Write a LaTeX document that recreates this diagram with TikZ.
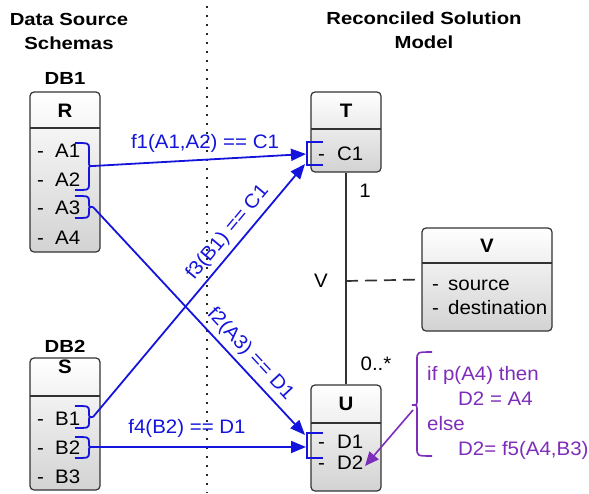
\documentclass[tikz,border=0pt]{standalone}
\usepackage{fontspec}
\setmainfont{Liberation Sans}[FakeStretch=1.05]
\newfontfamily\titlefont{Liberation Sans}[FakeStretch=1.16]
\usetikzlibrary{arrows.meta}
\definecolor{mblue}{RGB}{20,20,220}
\definecolor{mpurple}{RGB}{125,45,185}
\definecolor{boxline}{RGB}{50,50,50}
\newcommand\rcurly[5]{% x, top, bottom, mid, name
  \draw[brk] (#1,#2) .. controls (#1+14,#2) .. (#1+14,#2+6) -- (#1+14,#4-4) .. controls (#1+14,#4) .. (#1+18,#4) .. controls (#1+14,#4) .. (#1+14,#4+4) -- (#1+14,#3-6) .. controls (#1+14,#3) .. (#1,#3);
  \coordinate (#5) at (#1+18,#4);}
\begin{document}
\begin{tikzpicture}[x=1pt,y=-1pt,
  ttl/.style={font=\titlefont\bfseries\fontsize{17.5}{21}\selectfont, inner sep=0pt, anchor=base},
  umlbox/.style={draw=boxline, line width=1.2pt, rounded corners=4pt, top color=white, bottom color=gray!35, inner sep=0pt},
  divider/.style={draw=boxline, line width=1.2pt},
  txt/.style={font=\fontsize{19.5}{22}\selectfont, inner sep=0pt, anchor=base west},
  cls/.style={font=\bfseries\fontsize{19.5}{22}\selectfont, inner sep=0pt, anchor=base},
  map/.style={mblue, line width=1.8pt, -{Triangle[length=15pt,width=12pt]}},
  brk/.style={mblue, line width=1.8pt},
  lbl/.style={font=\fontsize{19.5}{22}\selectfont, text=mblue, inner sep=1pt},
  assoc/.style={boxline, line width=1.3pt},
  sepline/.style={black!85, line width=2pt, dash pattern=on 1.6pt off 7.4pt},
  note/.style={font=\fontsize{19.5}{22}\selectfont, text=mpurple, inner sep=0pt, anchor=base west},
]
\useasboundingbox (0,0) rectangle (589,493);
% separator
\coordinate (sepTop) at (207,6);
\coordinate (sepBot) at (207,493);
\draw[sepline] (sepTop) -- (sepBot);
% titles
\node[ttl] (t1a) at (69,25) {Data Source};
\node[ttl] (t1b) at (69,49.3) {Schemas};
\node[ttl] (t2a) at (424,24) {Reconciled Solution};
\node[ttl] (t2b) at (424,48.3) {Model};
\node[ttl] (db1) at (65,84) {DB1};
\node[ttl] (db2) at (65,352) {DB2};
% R box
\node[umlbox, minimum width=70pt, minimum height=160pt] (Rbox) at (65,172) {};
\draw[divider] (30,128) -- (100,128);
\node[cls] (Rn) at (65,117) {R};
\node[txt] (A1) at (37,157) {\makebox[18pt][l]{-}A1};
\node[txt] (A2) at (37,186) {\makebox[18pt][l]{-}A2};
\node[txt] (A3) at (37,214) {\makebox[18pt][l]{-}A3};
\node[txt] (A4) at (37,244) {\makebox[18pt][l]{-}A4};
% S box
\node[umlbox, minimum width=70pt, minimum height=132pt] (Sbox) at (65,424) {};
\draw[divider] (30,396) -- (100,396);
\node[cls] (Sn) at (65,373) {S};
\node[txt] (B1) at (37,425) {\makebox[18pt][l]{-}B1};
\node[txt] (B2) at (37,454) {\makebox[18pt][l]{-}B2};
\node[txt] (B3) at (37,483) {\makebox[18pt][l]{-}B3};
% T box
\node[umlbox, minimum width=70pt, minimum height=80pt] (Tbox) at (346,132) {};
\draw[divider] (311,129) -- (381,129);
\node[cls] (Tn) at (346,117) {T};
\node[txt] (C1) at (318,160) {\makebox[19pt][l]{-}C1};
% U box
\node[umlbox, minimum width=70pt, minimum height=106pt] (Ubox) at (346,438) {};
\draw[divider] (311,423) -- (381,423);
\node[cls] (Un) at (346,410) {U};
\node[txt] (D1) at (318,448) {\makebox[19pt][l]{-}D1};
\node[txt] (D2) at (318,469) {\makebox[19pt][l]{-}D2};
% V box
\node[umlbox, minimum width=130pt, minimum height=103pt] (Vbox) at (487,279.5) {};
\draw[divider] (422,263) -- (552,263);
\node[cls] (Vn) at (487,252) {V};
\node[txt] (src) at (432,290) {\makebox[16pt][l]{-}source};
\node[txt] (dst) at (432,314) {\makebox[16pt][l]{-}destination};
% association
\draw[assoc] (Tbox.south) -- (Ubox.north);
\coordinate (assocPt) at (346,281);
\draw[boxline, line width=1.7pt, dash pattern=on 12pt off 7pt] (assocPt) -- (Vbox.west);
\node[txt, anchor=base] (m1) at (365,197) {1};
\node[txt, anchor=base] (mV) at (321,287) {V};
\node[txt, anchor=base] (m0) at (376,370) {0..*};
% braces on sources
\rcurly{75}{143}{190}{166}{bA12}
\rcurly{75}{196}{218}{207}{bA3}
\rcurly{75}{406}{428}{417}{bB1}
\rcurly{75}{437}{458}{447}{bB2}
% brackets on targets
\draw[brk] (323,142) -- (307,142) -- (307,165) -- (323,165);
\draw[brk] (323,433) -- (307,433) -- (307,458) -- (323,458);
\coordinate (c1a) at (306,154);
\coordinate (c1b) at (305,164);
\coordinate (d1a) at (305,435);
\coordinate (d1b) at (306,447);
% mappings
\draw[map] (bA12) -- (c1a);
\draw[map] (bB1) -- node[lbl, sloped, above=4pt, pos=0.69] (f3) {f3(B1) == C1} (c1b);
\draw[map] (bA3) -- node[lbl, sloped, above=4pt, pos=0.69] (f2) {f2(A3) == D1} (d1a);
\draw[map] (bB2) -- (d1b);
\node[lbl, anchor=base, inner sep=0pt] (f1) at (205,148) {f1(A1,A2) == C1};
\node[lbl, anchor=base, inner sep=0pt] (f4) at (187,433) {f4(B2) == D1};
% purple note
\draw[mpurple, line width=1.6pt] (432,352) .. controls (417,352) .. (417,360) -- (417,400) .. controls (417,405) .. (412,405) .. controls (417,405) .. (417,410) -- (417,448) .. controls (417,456) .. (432,456);
\coordinate (noteTip) at (413,410);
\coordinate (d2in) at (365,466);
\draw[mpurple, line width=1.6pt, -{Triangle[length=14pt,width=12pt]}] (noteTip) -- (d2in);
\node[note] (n1) at (427,380) {if p(A4) then};
\node[note] (n2) at (458,405) {D2 = A4};
\node[note] (n3) at (427,430) {else};
\node[note] (n4) at (458,455) {D2= f5(A4,B3)};
\end{tikzpicture}
\end{document}
